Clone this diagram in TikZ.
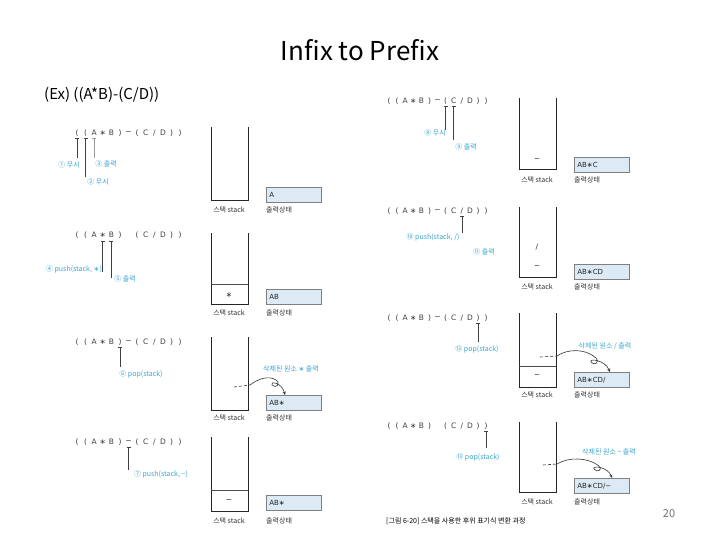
\documentclass[tikz,border=0pt]{standalone}
\usepackage{fontspec}
\setmainfont{Noto Sans CJK KR}
\newfontfamily\dv{DejaVu Sans}
\usetikzlibrary{arrows.meta}
\definecolor{annc}{HTML}{3AA6D0}
\definecolor{outfill}{HTML}{DCEAF6}
\newcommand\myexpr[5]{%
  \foreach \c [count=\i] in {{(},{(},A,∗,B,{)},{#5},{(},C,/,D,{)},{)}}{%
    \node[exch] (#1-\i) at ({#2+(\i-1)*#3},#4) {\c};}}
\newcommand\annline[4][black!75]{%
  \draw[tickline,draw=#1] (#2.center |- 0,#3) -- (#2.center |- 0,#4);
  \draw[tickline,draw=#1] ([xshift=-2pt]#2.center |- 0,#3) -- ([xshift=2pt]#2.center |- 0,#3);}
\begin{document}
\begin{tikzpicture}[x=1pt,y=-1pt,
  exch/.style={font=\dv\fontsize{7.5}{9}\selectfont, text=black!75, inner sep=0pt},
  ann/.style={font=\fontsize{7}{8}\selectfont, text=annc, inner sep=0pt},
  tickline/.style={line width=0.7pt},
  stackwall/.style={draw=black!85, line width=1pt},
  sep/.style={draw=black!70, line width=0.6pt},
  stk/.style={font=\dv\fontsize{7.5}{9}\selectfont, text=black!80, inner sep=0pt},
  outbox/.style={draw=black!50, fill=outfill, line width=0.6pt, minimum height=15pt,
     text width=49pt, inner xsep=3pt, inner ysep=0pt, align=left, anchor=north west,
     font=\dv\fontsize{7}{8}\selectfont, text=black!85},
  caplab/.style={font=\fontsize{7}{8}\selectfont, text=black!80, inner sep=0pt},
  arrowline/.style={draw=black!80, line width=0.6pt}]
\useasboundingbox (0,0) rectangle (720,540);
\fill[white] (0,0) rectangle (720,540);

% title
\node[font=\fontsize{26}{30}\selectfont, inner sep=0pt] (title) at (360,50) {Infix to Prefix};
\node[font=\fontsize{15}{18}\selectfont, inner sep=0pt, anchor=west] (sub) at (44,95) {(Ex) ((A*B)-(C/D))};

%%%%% Panel L1
\myexpr{La}{77}{8.6}{133}{−}
\annline{La-1}{138}{158}
\annline{La-2}{138}{177}
\annline[black!40]{La-3}{138}{158}
\node[ann] (La-t1) at (69,165) {① 무시};
\node[ann] (La-t3) at (106,164) {③ 출력};
\node[ann] (La-t2) at (98,182) {② 무시};
\draw[stackwall] (211,127) -- (211,201) -- (248,201) -- (248,127);
\node[caplab] (La-s) at (229,210) {스택 stack};
\node[outbox] (La-o) at (266,187) {A};
\node[caplab, anchor=west] (La-l) at (266,210) {출력상태};

%%%%% Panel L2
\myexpr{Lb}{77}{8.6}{235}{}
\annline{Lb-4}{241}{272}
\annline{Lb-5}{241}{278}
\node[ann] (Lb-t4) at (74,269) {④ push(stack, {\dv ∗})};
\node[ann] (Lb-t5) at (125,279) {⑤ 출력};
\draw[stackwall] (211,233) -- (211,304) -- (248,304) -- (248,233);
\draw[sep] (211,284) -- (248,284);
\node[stk] (Lb-k1) at (229,295) {∗};
\node[caplab] (Lb-s) at (229,313) {스택 stack};
\node[outbox] (Lb-o) at (266,289) {AB};
\node[caplab, anchor=west] (Lb-l) at (266,313) {출력상태};

%%%%% Panel L3
\myexpr{Lc}{77}{8.6}{342}{−}
\annline{Lc-6}{347}{367}
\node[ann] (Lc-t6) at (141,374) {⑥ pop(stack)};
\draw[stackwall] (211,337) -- (211,410) -- (248,410) -- (248,337);
\node[caplab] (Lc-s) at (229,418) {스택 stack};
\node[outbox] (Lc-o) at (266,395) {AB∗};
\node[caplab, anchor=west] (Lc-l) at (266,418) {출력상태};
\node[ann] (Lc-d) at (291,369) {삭제된 원소 {\dv ∗} 출력};
\coordinate (Lc-a) at (234,387);
\coordinate (Lc-b) at (250,385);
\draw[arrowline, densely dashed] (Lc-a) -- (Lc-b);
\draw[arrowline, -{Stealth[length=3.5pt,width=3pt]}] (Lc-b) .. controls (258,379) and (268,375) .. (276,380)
   .. controls (281,384) and (276,389) .. (272,385) .. controls (269,381) and (282,382) .. ([xshift=19pt]Lc-o.north west);

%%%%% Panel L4
\myexpr{Ld}{77}{8.6}{442}{−}
\annline{Ld-7}{447}{470}
\node[ann] (Ld-t7) at (161,474) {⑦ push(stack, −)};
\draw[stackwall] (211,437) -- (211,511) -- (248,511) -- (248,437);
\draw[sep] (211,490) -- (248,490);
\node[stk] (Ld-k1) at (229,501) {−};
\node[caplab] (Ld-s) at (229,521) {스택 stack};
\node[outbox] (Ld-o) at (266,495) {AB∗};
\node[caplab, anchor=west] (Ld-l) at (266,521) {출력상태};

%%%%% Panel R1
\myexpr{Ra}{389}{8.1}{101}{−}
\annline{Ra-8}{106}{130}
\annline{Ra-9}{106}{140}
\node[ann] (Ra-t8) at (435,133) {⑧ 무시};
\node[ann] (Ra-t9) at (466,147) {⑨ 출력};
\draw[stackwall] (519,98) -- (519,170) -- (556,170) -- (556,98);
\node[stk] (Ra-k1) at (537,160) {−};
\node[caplab] (Ra-s) at (537,180) {스택 stack};
\node[outbox] (Ra-o) at (574,157) {AB∗C};
\node[caplab, anchor=west] (Ra-l) at (574,180) {출력상태};

%%%%% Panel R2
\myexpr{Rb}{389}{8.1}{211}{−}
\annline{Rb-10}{216}{233}
\node[ann] (Rb-t10) at (433,237) {⑩ push(stack, /)};
\node[ann] (Rb-t11) at (484,252) {⑪ 출력};
\draw[stackwall] (519,207) -- (519,277) -- (556,277) -- (556,207);
\node[stk] (Rb-k2) at (537,247) {/};
\node[stk] (Rb-k1) at (537,267) {−};
\node[caplab] (Rb-s) at (537,287) {스택 stack};
\node[outbox] (Rb-o) at (574,264) {AB∗CD};
\node[caplab, anchor=west] (Rb-l) at (574,287) {출력상태};

%%%%% Panel R3
\myexpr{Rc}{389}{8.1}{318}{−}
\annline{Rc-12}{323}{342}
\node[ann] (Rc-t12) at (477,349) {⑫ pop(stack)};
\draw[stackwall] (519,313) -- (519,387) -- (556,387) -- (556,313);
\draw[sep] (519,366) -- (556,366);
\node[stk] (Rc-k1) at (537,376) {−};
\node[caplab] (Rc-s) at (537,395) {스택 stack};
\node[outbox] (Rc-o) at (574,372) {AB∗CD/};
\node[caplab, anchor=west] (Rc-l) at (574,395) {출력상태};
\node[ann] (Rc-d) at (605,346) {삭제된 원소 / 출력};
\coordinate (Rc-a) at (540,357);
\coordinate (Rc-b) at (557,356);
\draw[arrowline, densely dashed] (Rc-a) -- (Rc-b);
\draw[arrowline, -{Stealth[length=3.5pt,width=3pt]}] (Rc-b) .. controls (567,349) and (585,348) .. (596,358)
   .. controls (600,363) and (594,366) .. (591,362) .. controls (589,358) and (605,360) .. ([xshift=36pt]Rc-o.north west);

%%%%% Panel R4
\myexpr{Rd}{389}{8.1}{426}{}
\annline{Rd-13}{431}{448}
\node[ann] (Rd-t13) at (478,457) {⑬ pop(stack)};
\draw[stackwall] (519,422) -- (519,492) -- (556,492) -- (556,422);
\node[caplab] (Rd-s) at (537,502) {스택 stack};
\node[outbox] (Rd-o) at (574,478) {AB∗CD/−};
\node[caplab, anchor=west] (Rd-l) at (574,502) {출력상태};
\node[ann] (Rd-d) at (609,452) {삭제된 원소 − 출력};
\coordinate (Rd-a) at (543,465);
\coordinate (Rd-b) at (557,464);
\draw[arrowline, densely dashed] (Rd-a) -- (Rd-b);
\draw[arrowline, -{Stealth[length=3.5pt,width=3pt]}] (Rd-b) .. controls (568,457) and (588,457) .. (599,466)
   .. controls (603,470) and (597,473) .. (594,469) .. controls (592,465) and (608,467) .. ([xshift=38pt]Rd-o.north west);

% caption and page number
\node[caplab, text=black, anchor=west] (cap) at (386,521) {[그림 6-20] 스택을 사용한 후위 표기식 변환 과정};
\node[font=\fontsize{11}{13}\selectfont, text=black!55, inner sep=0pt] (pg) at (669,514) {20};
\end{tikzpicture}
\end{document}
